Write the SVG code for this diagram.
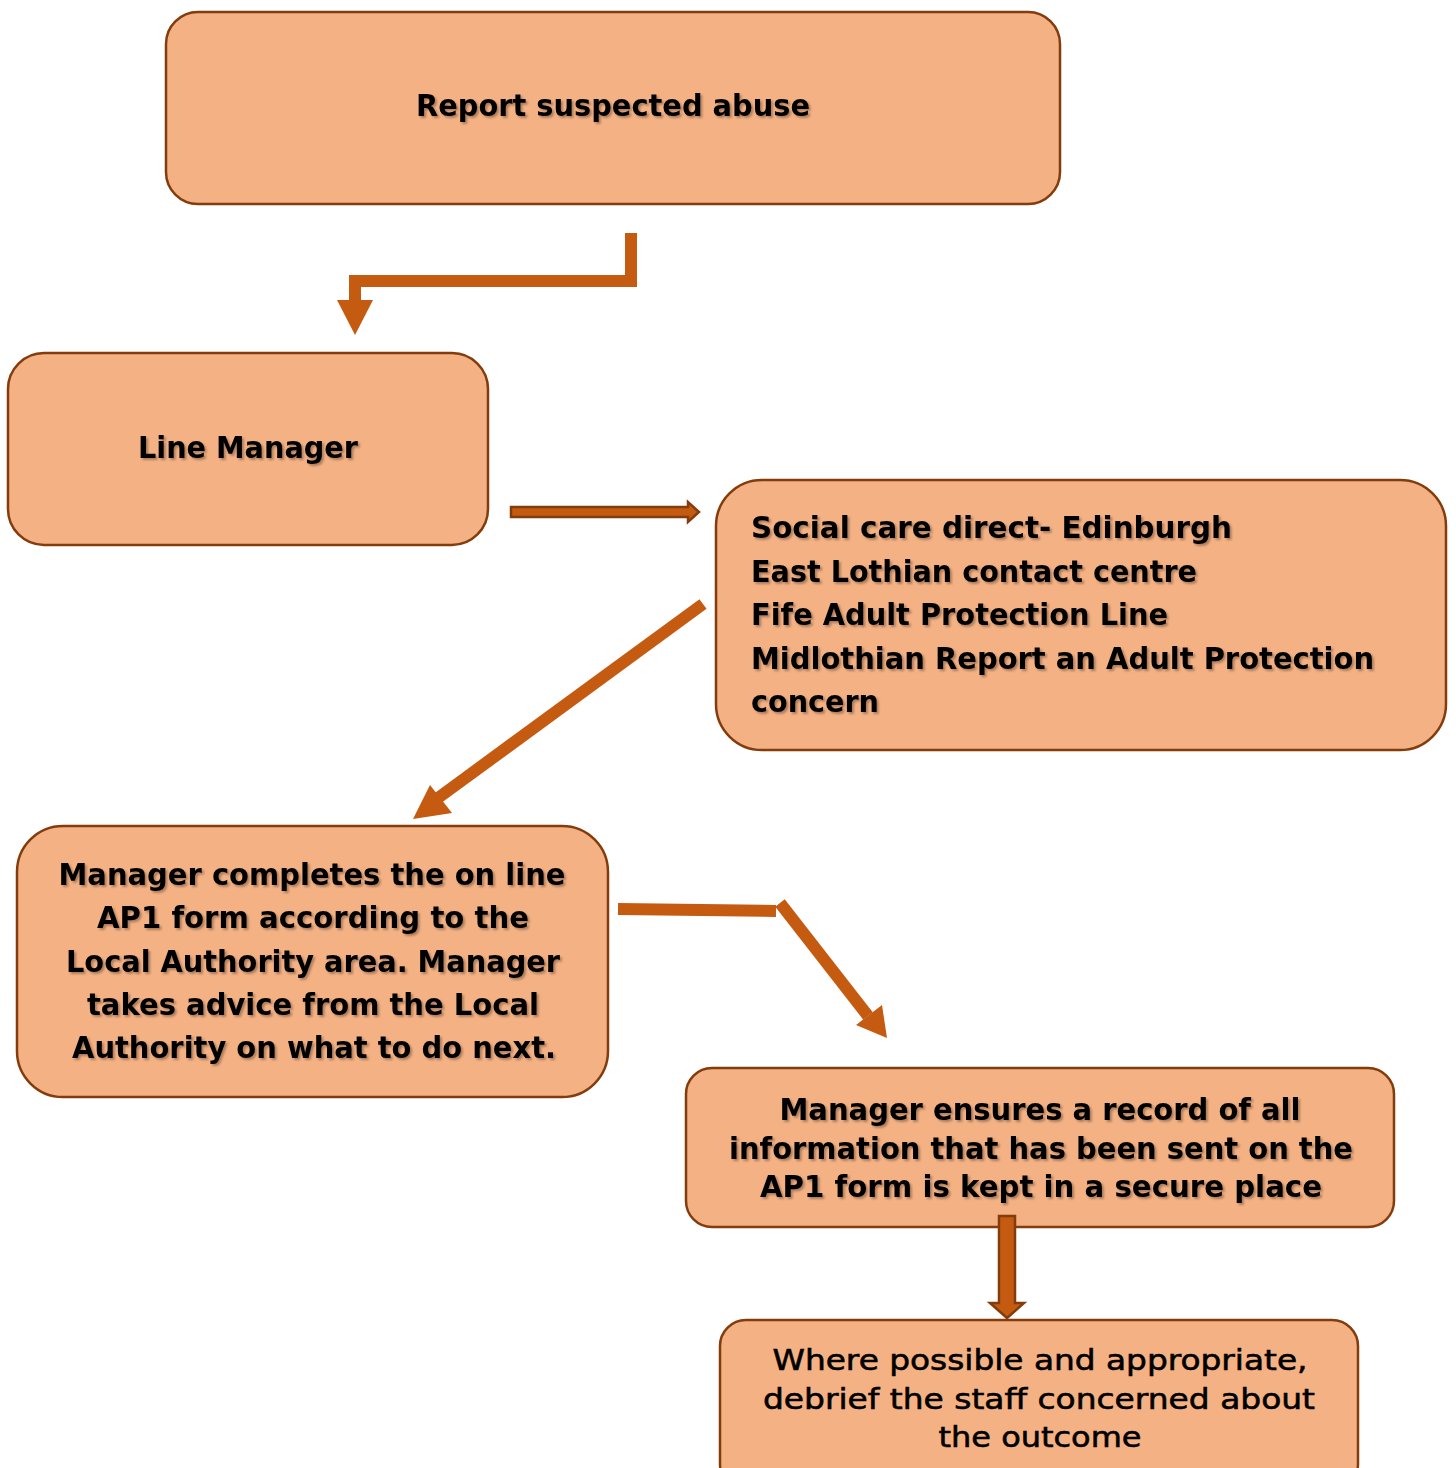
<svg xmlns="http://www.w3.org/2000/svg" width="1456" height="1468" viewBox="0 0 1456 1468">
<defs>
<style>
.box{fill:#F4B183;stroke:#843C0C;stroke-width:2.5}
.t{font-family:"DejaVu Sans","Liberation Sans",sans-serif;font-size:30px;font-weight:bold;fill:#000}
.tc{text-anchor:middle}
.tn{font-family:"DejaVu Sans","Liberation Sans",sans-serif;font-size:29px;fill:#000;stroke:#000;stroke-width:0.6;text-anchor:middle}
.sh{filter:url(#ds)}
.ln{fill:none;stroke:#C55A11;stroke-width:12}
.hd{fill:#C55A11}
.blk{fill:#C55A11;stroke:#843C0C;stroke-width:2.5}
</style>
<filter id="ds" x="-5%" y="-20%" width="110%" height="150%">
<feDropShadow dx="2" dy="2" stdDeviation="1.2" flood-color="#000" flood-opacity="0.3"/>
</filter>
</defs>
<g id="node-report">
<rect class="box" x="166" y="12" width="894" height="192" rx="32"/>
<text class="t tc sh" x="613" y="116" textLength="394" lengthAdjust="spacingAndGlyphs">Report suspected abuse</text>
</g>
<g id="node-line-manager">
<rect class="box" x="8" y="353" width="480" height="192" rx="36"/>
<text class="t tc sh" x="248" y="458" textLength="220" lengthAdjust="spacingAndGlyphs">Line Manager</text>
</g>
<g id="node-contacts">
<rect class="box" x="716" y="480" width="730" height="270" rx="46"/>
<text class="t sh" x="751" y="538" textLength="481" lengthAdjust="spacingAndGlyphs">Social care direct- Edinburgh</text>
<text class="t sh" x="751" y="582" textLength="446" lengthAdjust="spacingAndGlyphs">East Lothian contact centre</text>
<text class="t sh" x="751" y="625" textLength="417" lengthAdjust="spacingAndGlyphs">Fife Adult Protection Line</text>
<text class="t sh" x="751" y="669" textLength="623" lengthAdjust="spacingAndGlyphs">Midlothian Report an Adult Protection</text>
<text class="t sh" x="751" y="712" textLength="128" lengthAdjust="spacingAndGlyphs">concern</text>
</g>
<g id="node-ap1">
<rect class="box" x="17" y="826" width="591" height="271" rx="46"/>
<text class="t tc sh" x="312" y="885" textLength="507" lengthAdjust="spacingAndGlyphs">Manager completes the on line</text>
<text class="t tc sh" x="313" y="928" textLength="432" lengthAdjust="spacingAndGlyphs">AP1 form according to the</text>
<text class="t tc sh" x="313" y="972" textLength="494" lengthAdjust="spacingAndGlyphs">Local Authority area. Manager</text>
<text class="t tc sh" x="313" y="1015" textLength="452" lengthAdjust="spacingAndGlyphs">takes advice from the Local</text>
<text class="t tc sh" x="314" y="1058" textLength="484" lengthAdjust="spacingAndGlyphs">Authority on what to do next.</text>
</g>
<g id="node-record">
<rect class="box" x="686" y="1068" width="708" height="159" rx="26"/>
<text class="t tc sh" x="1040" y="1120" textLength="521" lengthAdjust="spacingAndGlyphs">Manager ensures a record of all</text>
<text class="t tc sh" x="1041" y="1159" textLength="624" lengthAdjust="spacingAndGlyphs">information that has been sent on the</text>
<text class="t tc sh" x="1041" y="1197" textLength="562" lengthAdjust="spacingAndGlyphs">AP1 form is kept in a secure place</text>
</g>
<g id="node-debrief">
<rect class="box" x="720" y="1320" width="638" height="170" rx="26"/>
<text class="tn" x="1040" y="1370" textLength="535" lengthAdjust="spacingAndGlyphs">Where possible and appropriate,</text>
<text class="tn" x="1039" y="1409" textLength="552" lengthAdjust="spacingAndGlyphs">debrief the staff concerned about</text>
<text class="tn" x="1040" y="1447" textLength="203" lengthAdjust="spacingAndGlyphs">the outcome</text>
</g>
<g id="connectors">
<polyline class="ln" points="631,233 631,281 355,281 355,302"/>
<polygon class="hd" points="337,300 373,300 355,335"/>
<polygon class="blk" points="511,507 688,507 688,502 699,512 688,522 688,517 511,517"/>
<line class="ln" x1="703" y1="604" x2="438" y2="798"/>
<polygon class="hd" points="413,819 430,785 452,813"/>
<polyline class="ln" points="618,909 776,911"/>
<line class="ln" x1="780" y1="903" x2="868" y2="1016"/>
<polygon class="hd" points="887,1038 856,1025 882,1005"/>
<polygon class="blk" points="999,1216 1015,1216 1015,1303 1024,1303 1007,1318 990,1303 999,1303"/>
</g>
</svg>
